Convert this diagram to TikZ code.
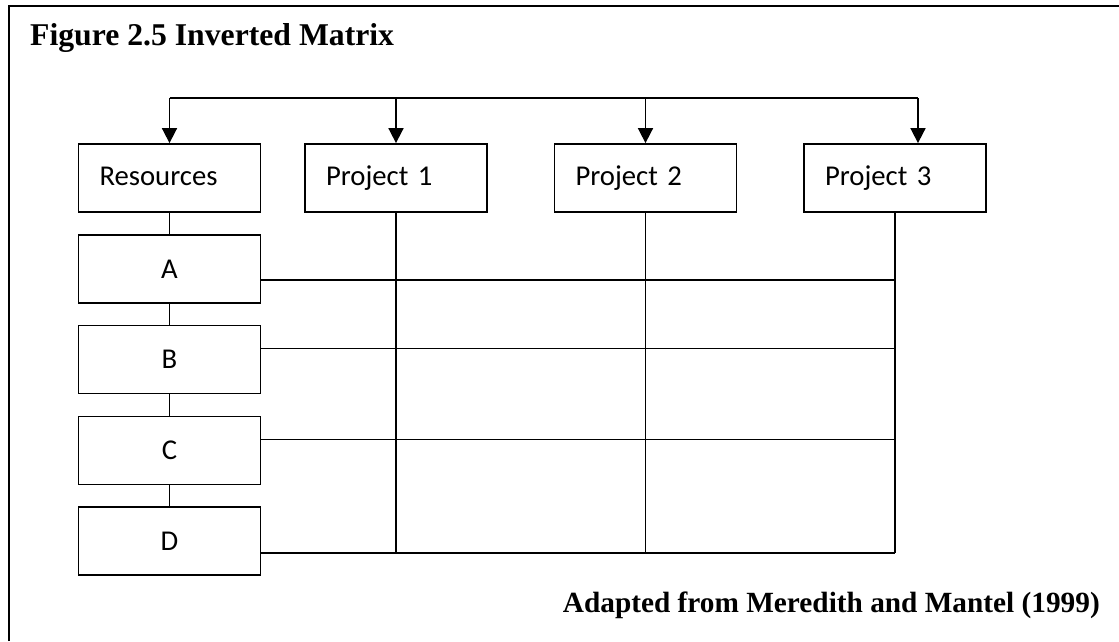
\documentclass[tikz,border=0pt]{standalone}
\usepackage{fontspec}
\setmainfont{Liberation Serif}
\newfontfamily\boxfont{Carlito}
\usetikzlibrary{arrows.meta}
\tikzset{
  box/.style={draw, line width=1.8pt, minimum width=182pt, minimum height=68pt, inner sep=0pt, font=\boxfont\fontsize{28.7}{32}\selectfont},
  pbox/.style={box, text width=140pt, align=left, inner xsep=21pt, text height=18pt, text depth=3pt},
  conn/.style={line width=1.7pt},
  arr/.style={line width=1.7pt, -{Triangle[width=15pt,length=15pt]}},
  framestyle/.style={line width=1.6pt},
  ttlstyle/.style={inner sep=0pt, font=\bfseries\fontsize{31.7}{36}\selectfont},
  capstyle/.style={inner sep=0pt, font=\bfseries\fontsize{29.3}{34}\selectfont}
}
\begin{document}
\begin{tikzpicture}[x=1pt,y=-1pt]
\useasboundingbox (0,0) rectangle (1119,641);
\draw[framestyle] (9,641) -- (9,6) -- (1119,6);
\node[ttlstyle, anchor=base west] (title) at (30,45) {Figure 2.5 Inverted Matrix};
\node[capstyle, anchor=base east] (caption) at (1100,612) {Adapted from Meredith and Mantel (1999)};

\node[pbox] (res) at (169.5,178) {Resources};
\node[pbox] (p1) at (396,178) {Project 1};
\node[pbox] (p2) at (645.5,178) {Project 2};
\node[pbox] (p3) at (895,178) {Project 3};

\node[box] (A) at (169.5,269) {A};
\node[box] (B) at (169.5,359.5) {B};
\node[box] (C) at (169.5,450.5) {C};
\node[box] (D) at (169.5,541) {D};

\coordinate (t0) at (169.5,98);
\coordinate (t3) at (918,98);
\draw[conn] (t0) -- (t3);
\draw[arr] (t0) -- (res.north);
\draw[arr] (p1.north |- t0) -- (p1.north);
\draw[arr] (p2.north |- t0) -- (p2.north);
\draw[arr] (t3) -- (t3 |- p3.north);

\draw[conn] (res.south) -- (A.north);
\draw[conn] (A.south) -- (B.north);
\draw[conn] (B.south) -- (C.north);
\draw[conn] (C.south) -- (D.north);

\coordinate (bot) at (0,553);
\draw[conn] (p1.south) -- (p1.south |- bot);
\draw[conn] (p2.south) -- (p2.south |- bot);
\draw[conn] (p3.south) -- (p3.south |- bot);

\draw[conn] ([yshift=-11pt]A.east) -- ([yshift=-11pt]A.east -| p3.south);
\draw[conn] ([yshift=11pt]B.east) -- ([yshift=11pt]B.east -| p3.south);
\draw[conn] ([yshift=11pt]C.east) -- ([yshift=11pt]C.east -| p3.south);
\draw[conn] ([yshift=-12pt]D.east) -- ([yshift=-12pt]D.east -| p3.south);
\end{tikzpicture}
\end{document}
